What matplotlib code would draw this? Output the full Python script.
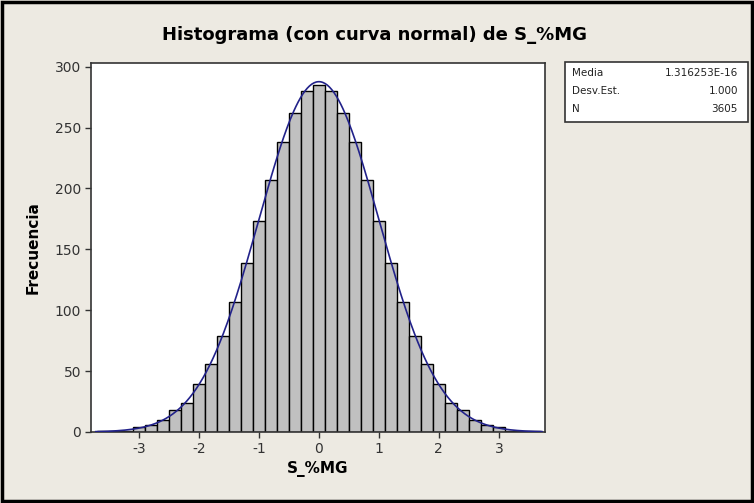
import matplotlib
matplotlib.use("Agg")
import matplotlib.pyplot as plt
import numpy as np
from matplotlib.patches import Rectangle
from matplotlib import font_manager

plt.rcParams["axes.unicode_minus"] = False

# bin centres (width 0.2) and counts
bin_centers = [-3.6, -3.4, -3.2, -3.0, -2.8, -2.6, -2.4, -2.2, -2.0, -1.8, -1.6,
               -1.4, -1.2, -1.0, -0.8, -0.6, -0.4, -0.2, 0.0, 0.2, 0.4, 0.6,
               0.8, 1.0, 1.2, 1.4, 1.6, 1.8, 2.0, 2.2, 2.4, 2.6, 2.8, 3.0,
               3.2, 3.4, 3.6]
counts = [1, 1, 1, 4, 6, 10, 18, 24, 39, 56, 79,
          107, 139, 173, 207, 238, 262, 280, 285, 280, 262, 238,
          207, 173, 139, 107, 79, 56, 39, 24, 18, 10, 6, 4,
          1, 1, 1]
bin_width = 0.2

media = 1.316253e-16
desv_est = 1.000
n_obs = 3605

stats_names = ["Media", "Desv.Est.", "N"]
stats_values = ["1.316253E-16", "1.000", "3605"]

bg = "#EDEAE2"

# narrow font for the title if it is there
names = set(f.name for f in font_manager.fontManager.ttflist)
title_font = "Liberation Sans Narrow" if "Liberation Sans Narrow" in names else "DejaVu Sans"
title_size = 14.5 if title_font == "Liberation Sans Narrow" else 13

fig = plt.figure(figsize=(7.54, 5.03), dpi=100, facecolor=bg)
ax = fig.add_axes([0.1207, 0.1412, 0.6021, 0.7336])
ax.set_facecolor("white")

ax.bar(bin_centers, counts, width=bin_width, color="#C0C0C0",
       edgecolor="black", linewidth=1.0, zorder=2)

# fitted normal curve
xs = np.linspace(-3.72, 3.72, 400)
ys = n_obs * bin_width * np.exp(-0.5 * ((xs - media) / desv_est) ** 2) / (desv_est * np.sqrt(2 * np.pi))
ax.plot(xs, ys, color="#22228A", linewidth=1.2, zorder=3)

ax.set_xlim(-3.8, 3.77)
ax.set_ylim(0, 303)
ax.set_xticks([-3, -2, -1, 0, 1, 2, 3])
ax.set_yticks([0, 50, 100, 150, 200, 250, 300])
ax.tick_params(direction="out", length=4, width=1, labelsize=10,
               colors="#333333", pad=3)
for s in ax.spines.values():
    s.set_linewidth(1.2)
    s.set_color("#333333")

ax.set_xlabel("S_%MG", fontsize=11, fontweight="bold", labelpad=4)
ax.set_ylabel("Frecuencia", fontsize=11, fontweight="bold", labelpad=10)

fig.text(0.497, 0.93, "Histograma (con curva normal) de S_%MG",
         ha="center", va="center", fontsize=title_size, fontweight="bold",
         family=title_font)

# statistics box
box = Rectangle((565 / 754, 1 - 122 / 503), (748 - 565) / 754, 60 / 503,
                transform=fig.transFigure, facecolor="white",
                edgecolor="#333333", linewidth=1.2)
fig.patches.append(box)
for i, (nm, val) in enumerate(zip(stats_names, stats_values)):
    yy = 1 - (73 + i * 18) / 503
    fig.text(572 / 754, yy, nm, ha="left", va="center", fontsize=7.5, color="#222222")
    fig.text(738 / 754, yy, val, ha="right", va="center", fontsize=7.5, color="#222222")

# outer frame
frame = Rectangle((0.002, 0.003), 0.996, 0.994, transform=fig.transFigure,
                  facecolor="none", edgecolor="black", linewidth=2.5)
fig.patches.append(frame)

fig.savefig("out.png", dpi=100, facecolor=bg)
